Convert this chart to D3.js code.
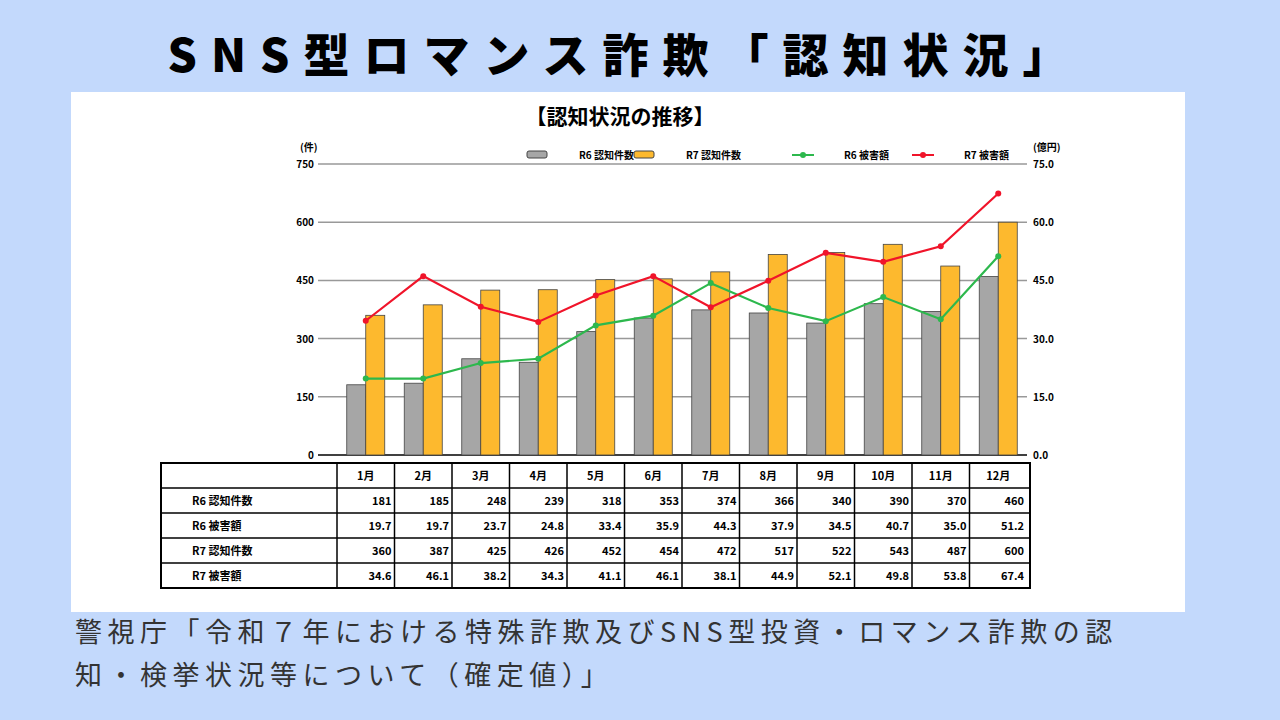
<!DOCTYPE html>
<html><head><meta charset="utf-8">
<script src="https://cdn.jsdelivr.net/npm/d3@7"></script>
<style>
body{margin:0;background:#c3d9fc;font-family:"Noto Sans CJK JP",sans-serif;}
</style></head>
<body><svg id="c" width="1280" height="720"></svg>
<script>
var months = ['1月','2月','3月','4月','5月','6月','7月','8月','9月','10月','11月','12月'];
var r6Count = [181,185,248,239,318,353,374,366,340,390,370,460];
var r6Damage = [19.7,19.7,23.7,24.8,33.4,35.9,44.3,37.9,34.5,40.7,35.0,51.2];
var r7Count = [360,387,425,426,452,454,472,517,522,543,487,600];
var r7Damage = [34.6,46.1,38.2,34.3,41.1,46.1,38.1,44.9,52.1,49.8,53.8,67.4];
var leftTicks = [0,150,300,450,600,750];
var rightTicks = [0,15,30,45,60,75];

var svg = d3.select('#c');
var font = '"Noto Sans CJK JP",sans-serif';

svg.append('text').attr('x',625).attr('y',72).attr('text-anchor','middle')
	.attr('font-size',46).attr('font-weight',900).attr('letter-spacing',14).attr('fill','#000')
	.attr('font-family',font).text('SNS型ロマンス詐欺「認知状況」');

svg.append('rect').attr('x',71).attr('y',92).attr('width',1114).attr('height',520).attr('fill','#fff');

svg.append('text').attr('x',620).attr('y',124).attr('text-anchor','middle').attr('font-size',21)
	.attr('font-weight',700).attr('font-family',font).text('【認知状況の推移】');

var x = d3.scaleBand().domain(months).range([337,1027]);
var yL = d3.scaleLinear().domain([0,750]).range([455,164]);
var yR = d3.scaleLinear().domain([0,75]).range([455,164]);

var g = svg.append('g').attr('font-family',font).attr('font-weight',700);
g.selectAll('line.grid').data(leftTicks).enter().append('line')
	.attr('x1',318).attr('x2',1027).attr('y1',yL).attr('y2',yL)
	.attr('stroke', function(d){ return d===0 ? '#000' : '#999'; }).attr('stroke-width',1.5);
g.selectAll('text.lt').data(leftTicks).enter().append('text')
	.attr('x',314).attr('y',function(d){return yL(d)+4;}).attr('text-anchor','end')
	.attr('font-size',10).text(function(d){return d;});
g.selectAll('text.rt').data(rightTicks).enter().append('text')
	.attr('x',1033).attr('y',function(d){return yR(d)+4;})
	.attr('font-size',10).text(function(d){return d.toFixed(1);});
g.append('text').attr('x',300).attr('y',151).attr('font-size',10).text('(件)');
g.append('text').attr('x',1033).attr('y',151).attr('font-size',10).text('(億円)');

var bw = 19;
g.selectAll('rect.b6').data(r6Count).enter().append('rect')
	.attr('x',function(d,i){return x(months[i])+x.bandwidth()/2-bw;}).attr('width',bw)
	.attr('y',yL).attr('height',function(d){return 455-yL(d);})
	.attr('fill','#a6a6a6').attr('stroke','#444').attr('stroke-width',0.8);
g.selectAll('rect.b7').data(r7Count).enter().append('rect')
	.attr('x',function(d,i){return x(months[i])+x.bandwidth()/2;}).attr('width',bw)
	.attr('y',yL).attr('height',function(d){return 455-yL(d);})
	.attr('fill','#fdb92e').attr('stroke','#444').attr('stroke-width',0.8);

function series(data,color){
	var line = d3.line().x(function(d,i){return x(months[i])+x.bandwidth()/2;}).y(function(d){return yR(d);});
	g.append('path').datum(data).attr('d',line).attr('fill','none').attr('stroke',color).attr('stroke-width',2.2);
	g.selectAll(null).data(data).enter().append('circle')
		.attr('cx',function(d,i){return x(months[i])+x.bandwidth()/2;}).attr('cy',yR).attr('r',3).attr('fill',color);
}
series(r6Damage,'#2db84d');
series(r7Damage,'#f0142a');

// legend
var leg = [['R6 認知件数','rect','#a6a6a6'],['R7 認知件数','rect','#fdb92e'],['R6 被害額','line','#2db84d'],['R7 被害額','line','#f0142a']];
var lx = [527,634,792,912];
leg.forEach(function(l,i){
	var lg = g.append('g').attr('transform','translate('+lx[i]+',155)');
	if(l[1]==='rect') lg.append('rect').attr('x',0).attr('y',-4).attr('width',20).attr('height',7).attr('rx',2).attr('fill',l[2]).attr('stroke','#444');
	else { lg.append('line').attr('x1',0).attr('x2',22).attr('stroke',l[2]).attr('stroke-width',2); lg.append('circle').attr('cx',11).attr('r',3).attr('fill',l[2]); }
	lg.append('text').attr('x',52).attr('y',4).attr('font-size',10).text(l[0]);
});

// table
var rows = [['R6 認知件数',r6Count,0],['R6 被害額',r6Damage,1],['R7 認知件数',r7Count,0],['R7 被害額',r7Damage,1]];
var tTop = 463, rh = 25;
var t = svg.append('g').attr('font-family',font).attr('font-weight',700).attr('font-size',11);
t.append('rect').attr('x',161).attr('y',tTop).attr('width',1030-161).attr('height',rh*5).attr('fill','none').attr('stroke','#000').attr('stroke-width',2);
d3.range(1,5).forEach(function(r){ t.append('line').attr('x1',161).attr('x2',1030).attr('y1',tTop+r*rh).attr('y2',tTop+r*rh).attr('stroke','#000').attr('stroke-width',1.5); });
months.forEach(function(m){
	t.append('line').attr('x1',x(m)).attr('x2',x(m)).attr('y1',tTop).attr('y2',tTop+5*rh).attr('stroke','#000').attr('stroke-width',1.5);
	t.append('text').attr('x',x(m)+x.bandwidth()/2).attr('y',tTop+17).attr('text-anchor','middle').text(m);
});
rows.forEach(function(r,ri){
	var yy = tTop+(ri+1)*rh+17;
	t.append('text').attr('x',192).attr('y',yy).text(r[0]);
	r[1].forEach(function(v,i){
		t.append('text').attr('x',x(months[i])+x.bandwidth()-3).attr('y',yy).attr('text-anchor','end').text(r[2]?v.toFixed(1):v);
	});
});

svg.append('text').attr('x',75).attr('y',642).attr('font-size',27).attr('letter-spacing',5.5).attr('fill','#333').attr('font-family',font)
	.text('警視庁「令和７年における特殊詐欺及びSNS型投資・ロマンス詐欺の認');
svg.append('text').attr('x',75).attr('y',685).attr('font-size',27).attr('letter-spacing',5.5).attr('fill','#333').attr('font-family',font)
	.text('知・検挙状況等について（確定値）」');
</script></body></html>
